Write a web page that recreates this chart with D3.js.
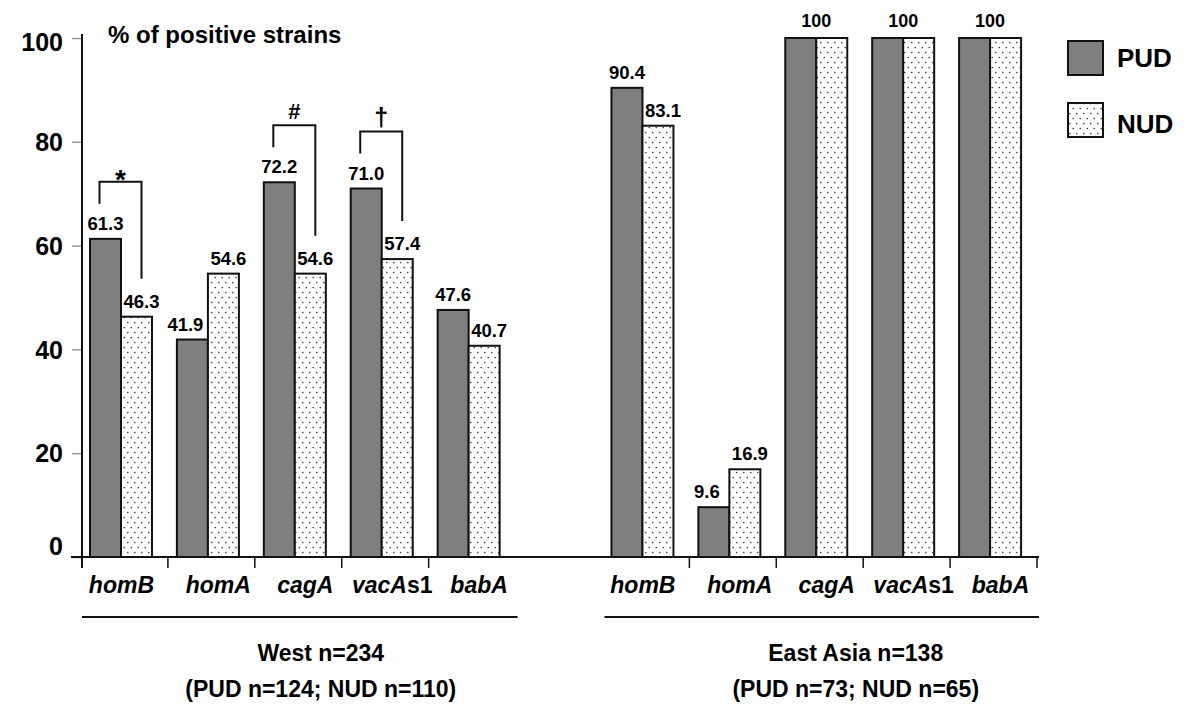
<!DOCTYPE html>
<html>
<head>
<meta charset="utf-8">
<script src="https://cdn.jsdelivr.net/npm/d3@7"></script>
<style>
  body { margin: 0; background: #fff; }
  text { font-family: "Liberation Sans", Arial, Helvetica, sans-serif; font-weight: bold; fill: #000; }
</style>
</head>
<body>
<svg id="viz"></svg>
<script>
const width = 1200, height = 725;

// data
const genes = ["homB", "homA", "cagA", "vacAs1", "babA"];
const westPUD = [61.3, 41.9, 72.2, 71.0, 47.6];
const westNUD = [46.3, 54.6, 54.6, 57.4, 40.7];
const eastPUD = [90.4, 9.6, 100, 100, 100];
const eastNUD = [83.1, 16.9, 100, 100, 100];
const groups = ["PUD", "NUD"];
const yTicks = [0, 20, 40, 60, 80, 100];
const regionTitles = ["West n=234", "East Asia n=138"];
const regionCounts = ["(PUD n=124; NUD n=110)", "(PUD n=73; NUD n=65)"];
const brackets = [
  { gene: "homB", symbol: "*" },
  { gene: "cagA", symbol: "#" },
  { gene: "vacAs1", symbol: "\u2020" }
];

const svg = d3.select("#viz").attr("width", width).attr("height", height);

// dotted fill for NUD
const defs = svg.append("defs");
const pat = defs.append("pattern")
  .attr("id", "dots")
  .attr("patternUnits", "userSpaceOnUse")
  .attr("width", 7).attr("height", 10);
pat.append("rect").attr("width", 7).attr("height", 10).attr("fill", "#fff");
pat.append("circle").attr("cx", 1.75).attr("cy", 2.5).attr("r", 0.85).attr("fill", "#444");
pat.append("circle").attr("cx", 5.25).attr("cy", 7.5).attr("r", 0.85).attr("fill", "#444");

const fills = { PUD: "#7f7f7f", NUD: "url(#dots)" };

// rows: west genes, an empty slot, then east genes
const rows = [];
genes.forEach((g, i) => rows.push({ key: "W-" + g, gene: g, region: 0, PUD: westPUD[i], NUD: westNUD[i] }));
rows.push({ key: "gap", gene: null });
genes.forEach((g, i) => rows.push({ key: "E-" + g, gene: g, region: 1, PUD: eastPUD[i], NUD: eastNUD[i] }));

const x = d3.scaleBand()
  .domain(rows.map(d => d.key))
  .range([83, 1039]);

const xSub = d3.scaleBand()
  .domain(groups)
  .range([7, 69]);

const y = d3.scaleLinear()
  .domain([0, 100])
  .range([557, 38]);

const bound = k => x.range()[0] + k * x.step();
const baseY = y(0);

// bars
const barRows = rows.filter(d => d.gene);
const gBars = svg.append("g");
barRows.forEach(r => {
  groups.forEach(k => {
    gBars.append("rect")
      .attr("x", x(r.key) + xSub(k))
      .attr("y", y(r[k]))
      .attr("width", xSub.bandwidth())
      .attr("height", baseY - y(r[k]))
      .attr("fill", fills[k])
      .attr("stroke", "#111")
      .attr("stroke-width", 2);
  });
});

// value labels
barRows.forEach(r => {
  if (r.PUD === 100 && r.NUD === 100) {
    svg.append("text")
      .attr("x", x(r.key) + xSub("NUD"))
      .attr("y", y(100) - 11)
      .attr("text-anchor", "middle")
      .attr("font-size", 18)
      .text("100");
    return;
  }
  groups.forEach(k => {
    // nudge the PUD label left when its NUD neighbour is taller
    let dx = k === "NUD" ? 5 : (r.NUD > r.PUD ? -7 : 0);
    svg.append("text")
      .attr("x", x(r.key) + xSub(k) + xSub.bandwidth() / 2 + dx)
      .attr("y", y(r[k]) - 9)
      .attr("text-anchor", "middle")
      .attr("font-size", 18.5)
      .text(d3.format(".1f")(r[k]));
  });
});

// significance brackets (West)
const symSize = { "*": 28, "#": 22, "\u2020": 25 };
const symDy = { "*": 7, "#": -6, "\u2020": -6 };
brackets.forEach(b => {
  const r = rows.find(d => d.key === "W-" + b.gene);
  const xl = x(r.key) + xSub("PUD") + xSub.bandwidth() / 2 - 6;
  const xr = x(r.key) + xSub("NUD") + xSub.bandwidth() / 2 + 5;
  const top = y(r.PUD) - 57;
  svg.append("path")
    .attr("d", `M${xl},${top + 22}V${top}H${xr}V${y(r.NUD) - 38}`)
    .attr("fill", "none")
    .attr("stroke", "#111")
    .attr("stroke-width", 2);
  svg.append("text")
    .attr("x", (xl + xr) / 2)
    .attr("y", top + symDy[b.symbol])
    .attr("text-anchor", "middle")
    .attr("font-size", symSize[b.symbol])
    .text(b.symbol);
});

// y axis
const yAxis = svg.append("g")
  .attr("transform", `translate(82,0)`)
  .call(d3.axisLeft(y).tickValues(yTicks).tickSize(10).tickPadding(9).tickSizeOuter(0));
yAxis.select(".domain").remove();
yAxis.selectAll(".tick line").attr("stroke", "#999").attr("stroke-width", 1.5);
yAxis.selectAll(".tick text")
  .attr("font-size", 25)
  .attr("font-family", "Liberation Sans, Arial, sans-serif")
  .attr("fill", "#000")
  .attr("dy", d => d === 100 ? "0.5em" : d === 0 ? "-0.1em" : "0.35em");
svg.append("line")
  .attr("x1", 82).attr("x2", 82)
  .attr("y1", y(100) - 4).attr("y2", baseY + 11)
  .attr("stroke", "#111").attr("stroke-width", 2);

// x axis line and ticks
svg.append("line")
  .attr("x1", 71).attr("x2", bound(11))
  .attr("y1", baseY).attr("y2", baseY)
  .attr("stroke", "#111").attr("stroke-width", 2);
[1, 2, 3, 4, 7, 8, 9, 10, 11].forEach(k => {
  svg.append("line")
    .attr("x1", bound(k) - 2).attr("x2", bound(k) - 2)
    .attr("y1", baseY).attr("y2", baseY + 11)
    .attr("stroke", "#111").attr("stroke-width", 1.5);
});

// gene labels
barRows.forEach((r, i) => {
  const t = svg.append("text")
    .attr("x", x(r.key) + x.bandwidth() / 2 + (r.gene === "homB" ? -5 : 5))
    .attr("y", 593)
    .attr("text-anchor", "middle")
    .attr("font-size", 23);
  if (r.gene === "vacAs1") {
    t.append("tspan").attr("font-style", "italic").text("vacA");
    t.append("tspan").text("s1");
  } else {
    t.append("tspan").attr("font-style", "italic").text(r.gene);
  }
});

// region underlines and titles
const spans = [[bound(0) - 1, bound(5)], [bound(6), bound(11)]];
const titleShift = [21, 34];
spans.forEach((s, i) => {
  svg.append("line")
    .attr("x1", s[0]).attr("x2", s[1])
    .attr("y1", 617).attr("y2", 617)
    .attr("stroke", "#111").attr("stroke-width", 2);
  const cx = (s[0] + s[1]) / 2 + titleShift[i];
  svg.append("text")
    .attr("x", cx).attr("y", 661)
    .attr("text-anchor", "middle")
    .attr("font-size", 23)
    .text(regionTitles[i]);
  svg.append("text")
    .attr("x", cx).attr("y", 697)
    .attr("text-anchor", "middle")
    .attr("font-size", 23)
    .text(regionCounts[i]);
});

// y title
svg.append("text")
  .attr("x", 108).attr("y", 43)
  .attr("font-size", 24)
  .text("% of positive strains");

// legend
const legend = svg.append("g").attr("transform", "translate(1068,41)");
groups.forEach((k, i) => {
  legend.append("rect")
    .attr("x", 0).attr("y", i * 62)
    .attr("width", 35).attr("height", 34)
    .attr("fill", fills[k])
    .attr("stroke", "#111").attr("stroke-width", 2);
  legend.append("text")
    .attr("x", 49).attr("y", i * 62 + 26 + i * 4)
    .attr("font-size", 26)
    .text(k);
});
</script>
</body>
</html>
